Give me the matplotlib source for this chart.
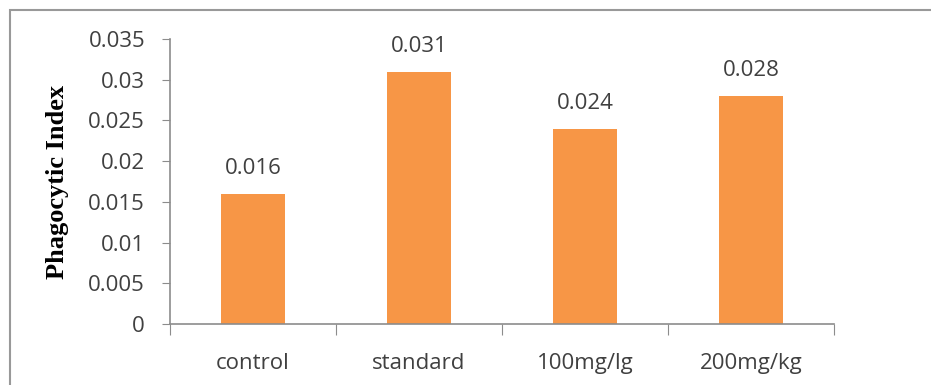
import matplotlib.pyplot as plt
from matplotlib.patches import Rectangle

# data
groups = ["control", "standard", "100mg/lg", "200mg/kg"]
phago_index = [0.016, 0.031, 0.024, 0.028]
value_labels = ["0.016", "0.031", "0.024", "0.028"]

bar_color = "#F79646"
axis_color = "#8C8C8C"
text_color = "#404040"

fig = plt.figure(figsize=(9.31, 3.85), dpi=100)
ax = fig.add_axes([170 / 931, 61 / 385, 664 / 931, 285 / 385])

# outer chart frame (left and top visible)
fig.patches.append(Rectangle((10 / 931, -0.2), 1.2, (375 / 385) + 0.2,
                             transform=fig.transFigure, fill=False,
                             edgecolor="#999999", linewidth=1.5))

x = range(len(groups))
ax.bar(x, phago_index, width=0.39, color=bar_color, zorder=2)

for xi, v, lab in zip(x, phago_index, value_labels):
    ax.text(xi, v + 0.0018, lab, ha="center", va="bottom",
            fontsize=16, family="Open Sans", color=text_color)

ax.set_xlim(-0.5, len(groups) - 0.5)
ax.set_ylim(0, 0.035)
ax.set_yticks([0, 0.005, 0.01, 0.015, 0.02, 0.025, 0.03, 0.035])
ax.set_yticklabels(["0", "0.005", "0.01", "0.015", "0.02", "0.025", "0.03", "0.035"])

ax.set_xticks([i - 0.5 for i in range(len(groups) + 1)])
ax.set_xticklabels([])
ax.set_xticks(list(x), minor=True)
ax.set_xticklabels(groups, minor=True)
ax.tick_params(axis="x", which="major", length=8, color=axis_color, direction="out")
ax.tick_params(axis="x", which="minor", length=0, pad=21, labelsize=16,
               labelcolor=text_color)
ax.tick_params(axis="y", length=6, color=axis_color, pad=12, labelsize=16,
               labelcolor=text_color)
for lab in ax.get_xticklabels(minor=True) + ax.get_yticklabels():
    lab.set_family("Open Sans")

for side in ["top", "right"]:
    ax.spines[side].set_visible(False)
for side in ["left", "bottom"]:
    ax.spines[side].set_color(axis_color)
    ax.spines[side].set_linewidth(1.2)

ax.set_ylabel("Phagocytic Index", family="Liberation Serif", fontweight="bold",
              fontsize=19, color="black", labelpad=14)

fig.savefig("out.png", dpi=100)
